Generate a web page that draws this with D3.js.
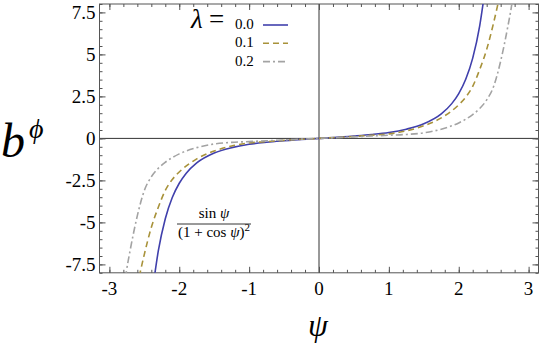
<!DOCTYPE html>
<html lang="en">
<head>
<meta charset="utf-8">
<title>b phi vs psi</title>
<script src="https://cdn.jsdelivr.net/npm/d3@7"></script>
<style>
  body { margin: 0; background: #fff; }
</style>
</head>
<body>
<script>
// values
var psi0 = [-2.36,-2.3,-2.2,-2.1,-2.0,-1.9,-1.75,-1.5,-1.25,-1.0,-0.75,-0.5,-0.25,0,0.25,0.5,0.75,1.0,1.25,1.5,1.75,1.9,2.0,2.1,2.2,2.3,2.36];
var b0   = [-8.36,-6.70,-4.78,-3.52,-2.67,-2.07,-1.46,-0.87,-0.55,-0.35,-0.23,-0.14,-0.06,0,0.06,0.14,0.23,0.35,0.55,0.87,1.46,2.07,2.67,3.52,4.78,6.70,8.36];

var psi1 = [-2.6,-2.55,-2.5,-2.4,-2.3,-2.2,-2.1,-2.0,-1.75,-1.5,-1.25,-1.0,-0.75,-0.5,-0.25,0,0.25,0.5,0.75,1.0,1.25,1.5,1.75,2.0,2.1,2.2,2.3,2.4,2.5,2.55,2.6];
var b1   = [-8.8,-7.8,-6.9,-5.3,-4.1,-3.1,-2.45,-2.0,-1.22,-0.75,-0.45,-0.27,-0.19,-0.115,-0.055,0,0.055,0.115,0.19,0.27,0.45,0.75,1.22,2.0,2.45,3.1,4.1,5.3,6.9,7.8,8.8];

var psi2 = [-2.8,-2.76,-2.7,-2.6,-2.5,-2.4,-2.3,-2.2,-2.0,-1.75,-1.5,-1.25,-1.0,-0.75,-0.5,-0.25,0,0.25,0.5,0.75,1.0,1.25,1.5,1.75,2.0,2.2,2.3,2.4,2.5,2.6,2.7,2.76,2.8];
var b2   = [-9.2,-8.0,-6.6,-4.6,-3.1,-2.29,-1.78,-1.42,-0.92,-0.55,-0.33,-0.235,-0.19,-0.14,-0.09,-0.045,0,0.045,0.09,0.14,0.19,0.235,0.33,0.55,0.92,1.42,1.78,2.29,3.1,4.6,6.6,8.0,9.2];

var lambdas = ["0.0", "0.1", "0.2"];
var xTicks = [-3, -2, -1, 0, 1, 2, 3];
var yTicks = [-7.5, -5, -2.5, 0, 2.5, 5, 7.5];

var width = 539, height = 345;
var pLeft = 99.5, pRight = 538.5, pTop = 4, pBottom = 272.8;
var serif = "'Liberation Serif', 'Times New Roman', Times, 'DejaVu Serif', serif";

var x = d3.scaleLinear().domain([-Math.PI, Math.PI]).range([pLeft, pRight]);
var y = d3.scaleLinear().domain([-8, 8]).range([pBottom, pTop]);

var svg = d3.select("body").append("svg")
  .attr("width", width)
  .attr("height", height)
  .style("font-family", serif);

svg.append("defs").append("clipPath").attr("id", "clip")
  .append("rect")
  .attr("x", pLeft).attr("y", pTop)
  .attr("width", pRight - pLeft).attr("height", pBottom - pTop);

// zero lines
svg.append("line")
  .attr("x1", x(0)).attr("x2", x(0)).attr("y1", pTop).attr("y2", pBottom)
  .attr("stroke", "#333").attr("stroke-width", 1);
svg.append("line")
  .attr("x1", pLeft).attr("x2", pRight).attr("y1", y(0)).attr("y2", y(0))
  .attr("stroke", "#333").attr("stroke-width", 1);

// ticks on all four sides, pointing in
var xMinor = d3.range(-31, 32).map(function(i){ return i / 5 }).filter(function(v){ return Math.abs(v) <= Math.PI });
var yMinor = d3.range(-16, 17).map(function(i){ return i / 2 });

function tickAxis(axis, scale, major, minor, tr) {
  var g = svg.append("g").attr("transform", tr).call(axis(scale)
    .tickValues(minor).tickSize(-3).tickFormat(""));
  g.select(".domain").remove();
  g.selectAll("line").attr("stroke", "#555");
  var g2 = svg.append("g").attr("transform", tr).call(axis(scale)
    .tickValues(major).tickSize(-6).tickFormat(""));
  g2.select(".domain").remove();
  g2.selectAll("line").attr("stroke", "#555");
}
tickAxis(d3.axisBottom, x, xTicks, xMinor, "translate(0," + pBottom + ")");
tickAxis(d3.axisTop, x, xTicks, xMinor, "translate(0," + pTop + ")");
tickAxis(d3.axisLeft, y, yTicks, yMinor, "translate(" + pLeft + ",0)");
tickAxis(d3.axisRight, y, yTicks, yMinor, "translate(" + pRight + ",0)");

// frame
svg.append("rect")
  .attr("x", pLeft).attr("y", pTop)
  .attr("width", pRight - pLeft).attr("height", pBottom - pTop)
  .attr("fill", "none").attr("stroke", "#555").attr("stroke-width", 1);

// tick labels
svg.selectAll(".xl").data(xTicks).enter().append("text")
  .attr("x", function(d){ return x(d) })
  .attr("y", pBottom + 22)
  .attr("text-anchor", "middle")
  .style("font-family", serif)
  .style("font-size", "19px")
  .text(function(d){ return d });

svg.selectAll(".yl").data(yTicks).enter().append("text")
  .attr("x", pLeft - 4)
  .attr("y", function(d){ return y(d) })
  .attr("dy", "0.33em")
  .attr("text-anchor", "end")
  .style("font-family", serif)
  .style("font-size", "19px")
  .text(function(d){ return d });

// curves
var series = [
  { psi: psi0, b: b0, color: "#4040ac", dash: null },
  { psi: psi1, b: b1, color: "#a8923a", dash: "6,4" },
  { psi: psi2, b: b2, color: "#a3a3a3", dash: "7,3,2,3" }
];

var line = d3.line()
  .x(function(d){ return x(d[0]) })
  .y(function(d){ return y(d[1]) })
  .curve(d3.curveMonotoneX);

svg.append("g").attr("clip-path", "url(#clip)")
  .selectAll("path").data(series).enter().append("path")
  .attr("d", function(s){ return line(d3.zip(s.psi, s.b)) })
  .attr("fill", "none")
  .attr("stroke", function(s){ return s.color })
  .attr("stroke-width", 1.6)
  .attr("stroke-dasharray", function(s){ return s.dash });

// legend
svg.append("text").attr("x", 191).attr("y", 28)
  .style("font-family", serif)
  .style("font-size", "27px").style("font-style", "italic").text("λ");
svg.append("text").attr("x", 209).attr("y", 28)
  .style("font-family", serif)
  .style("font-size", "27px").text("=");
var lg = svg.selectAll(".lg").data(series).enter().append("g")
  .attr("transform", function(d, i){ return "translate(0," + (29 + i * 18.3) + ")" });
lg.append("text").attr("x", 235).attr("y", 0)
  .style("font-family", serif)
  .style("font-size", "15px")
  .text(function(d, i){ return lambdas[i] });
lg.append("line").attr("x1", 263).attr("x2", 288).attr("y1", -4).attr("y2", -4)
  .attr("stroke", function(d){ return d.color })
  .attr("stroke-width", 1.6)
  .attr("stroke-dasharray", function(d){ return d.dash });

// formula label
var fx = 214;
svg.append("text").attr("x", fx).attr("y", 218).attr("text-anchor", "middle")
  .style("font-family", serif)
  .style("font-size", "15px")
  .html('sin <tspan font-style="italic">ψ</tspan>');
svg.append("line").attr("x1", 177).attr("x2", 251).attr("y1", 224).attr("y2", 224)
  .attr("stroke", "#000").attr("stroke-width", 0.8);
svg.append("text").attr("x", fx).attr("y", 237).attr("text-anchor", "middle")
  .style("font-family", serif)
  .style("font-size", "15px")
  .html('(1 + cos <tspan font-style="italic">ψ</tspan>)<tspan dy="-6" font-size="11px">2</tspan>');

// axis titles
svg.append("text").attr("x", 1).attr("y", 157)
  .style("font-family", serif)
  .style("font-size", "48px").style("font-style", "italic").text("b");
svg.append("text").attr("x", 29).attr("y", 138)
  .style("font-family", serif)
  .style("font-size", "28px").style("font-style", "italic").text("ϕ");
svg.append("text").attr("x", 318).attr("y", 336).attr("text-anchor", "middle")
  .style("font-family", serif)
  .style("font-size", "32px").style("font-style", "italic").text("ψ");
</script>
</body>
</html>
